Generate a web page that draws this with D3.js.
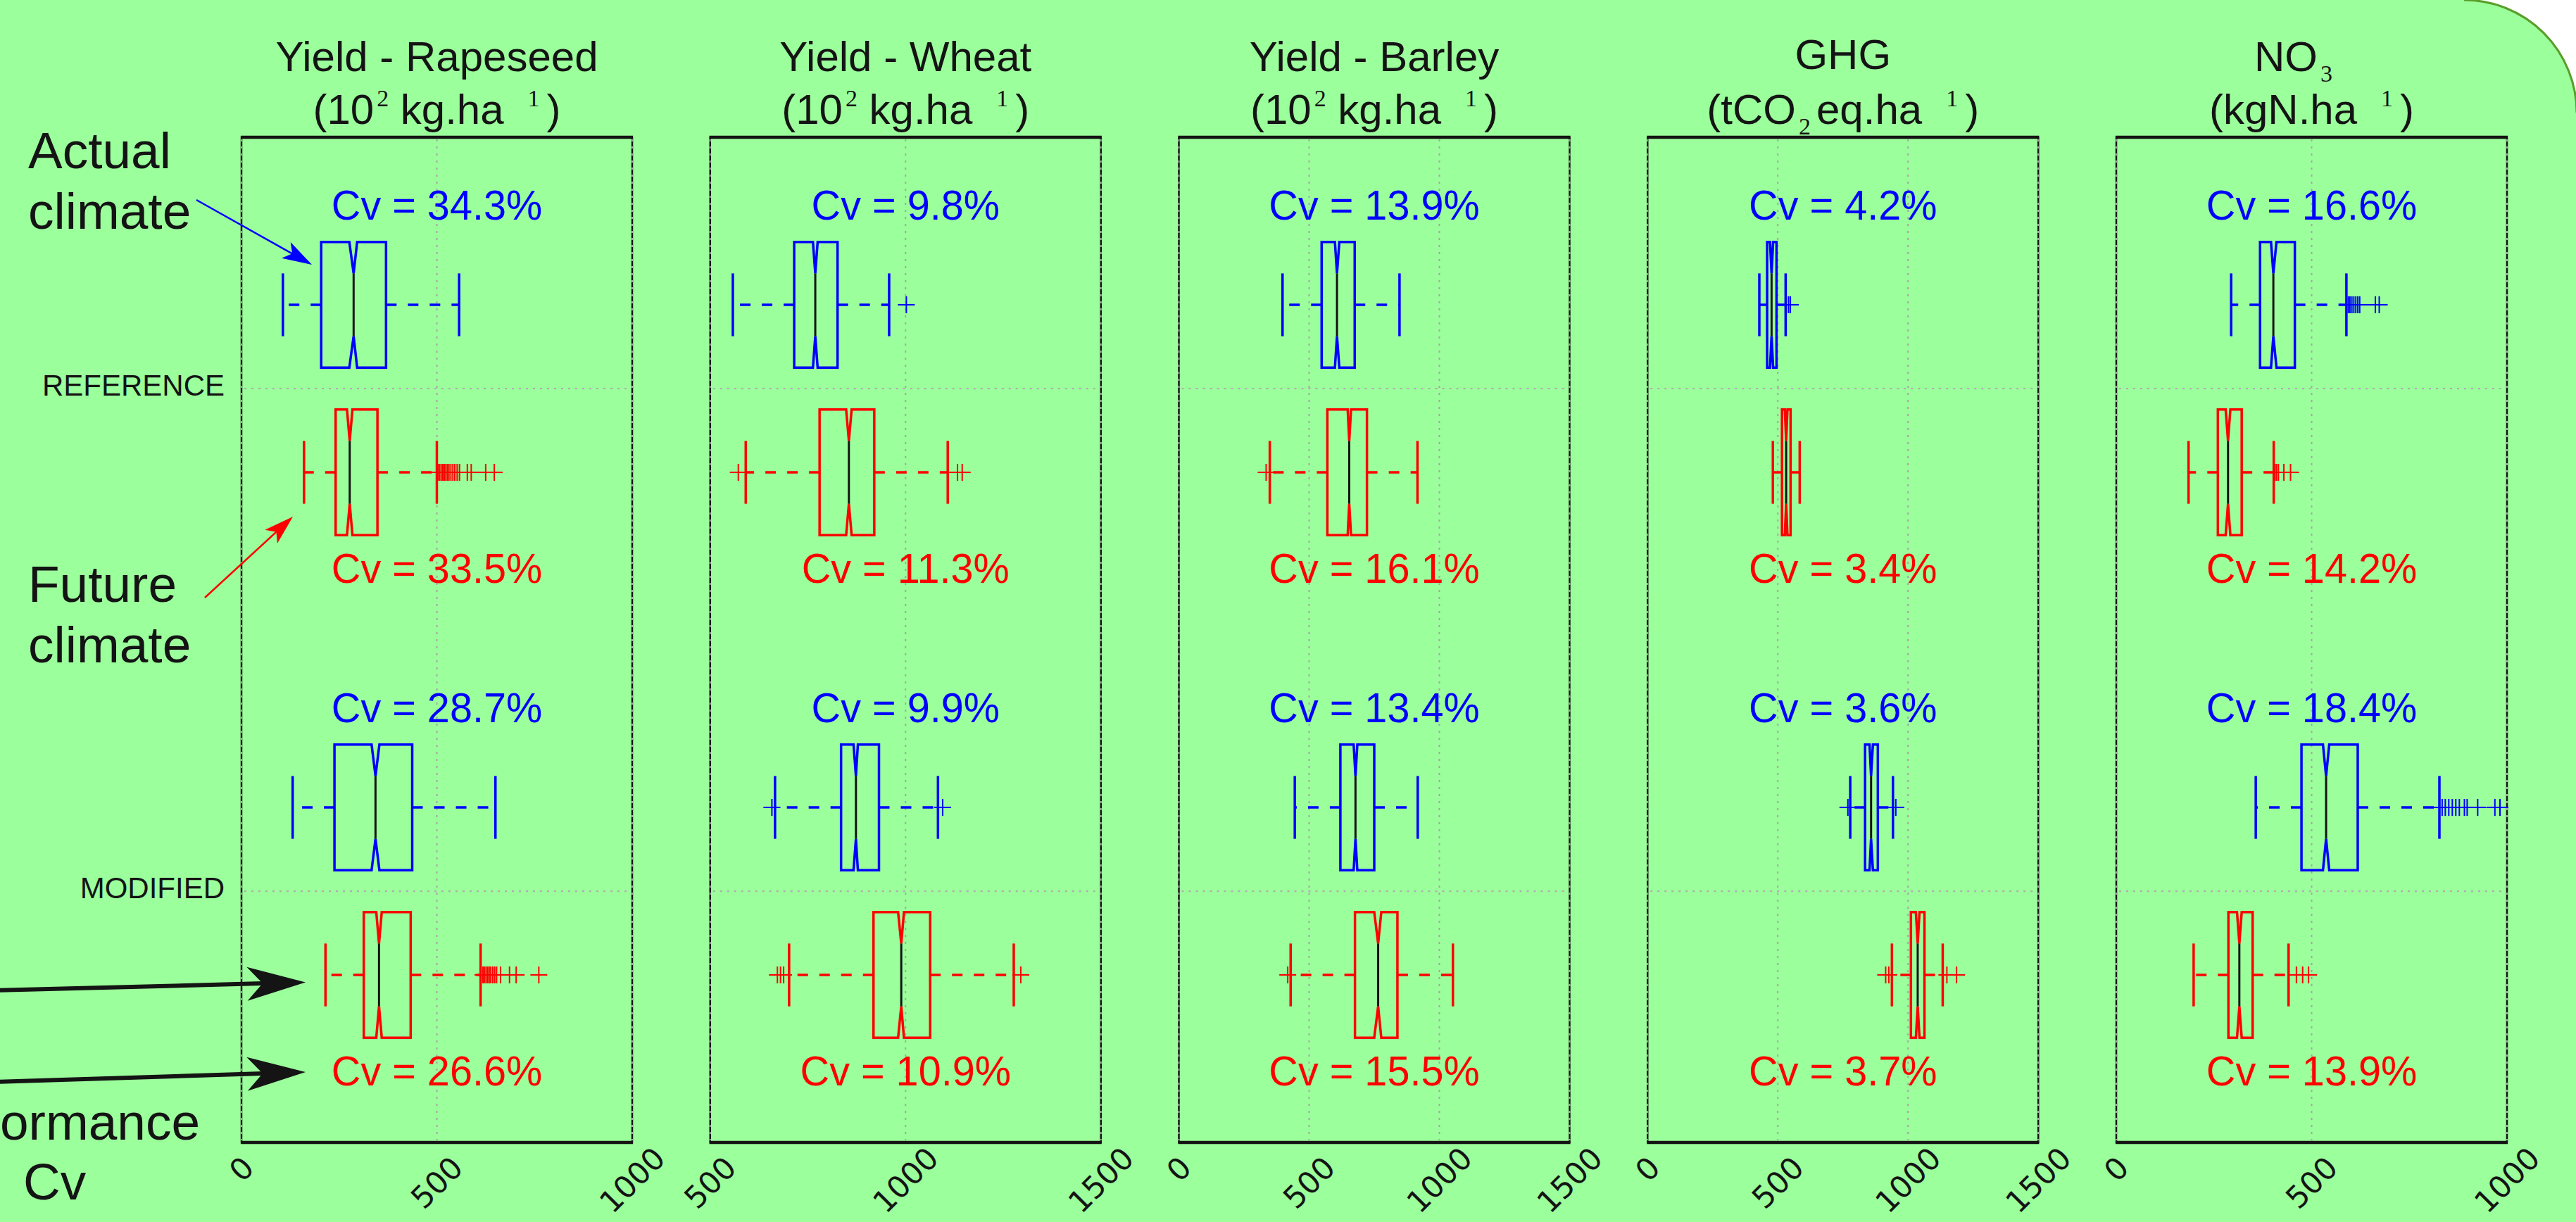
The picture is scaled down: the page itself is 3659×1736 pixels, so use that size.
<!DOCTYPE html>
<html>
<head>
<meta charset="utf-8">
<script src="https://cdn.jsdelivr.net/npm/d3@7"></script>
<style>
  body { margin: 0; background: #fff; }
  svg { display: block; }
</style>
</head>
<body>
<script>
"use strict";

// ---- data ----
var panelTitles = ["Yield - Rapeseed", "Yield - Wheat", "Yield - Barley", "GHG", "NO"];
var domains = [[0, 1000], [500, 1500], [0, 1500], [0, 1500], [0, 1000]];
var tickValues = [[0, 500, 1000], [500, 1000, 1500], [0, 500, 1000, 1500], [0, 500, 1000, 1500], [0, 500, 1000]];
var rowLabels = ["REFERENCE", "MODIFIED"];

// box stats per panel: [low whisker, q1, notch low, median, notch high, q3, high whisker]
var actualRefStats = [
  [106, 204, 276, 287, 296, 370, 557],
  [558, 715, 763, 769, 775, 826, 958],
  [398, 548, 599, 607, 616, 675, 847],
  [429, 459, 470, 476, 482, 495, 530],
  [294, 368, 396, 402, 410, 457, 589]
];
var futureRefStats = [
  [160, 241, 270, 277, 284, 348, 500],
  [591, 780, 848, 855, 862, 920, 1108],
  [349, 570, 648, 654, 661, 722, 916],
  [481, 516, 527, 532, 537, 549, 584],
  [185, 260, 280, 286, 292, 321, 403]
];
var actualModStats = [
  [131, 238, 333, 343, 353, 437, 650],
  [666, 835, 867, 873, 878, 932, 1083],
  [445, 620, 671, 678, 685, 750, 917],
  [778, 835, 852, 858, 865, 884, 942],
  [357, 474, 529, 537, 545, 618, 827]
];
var futureModStats = [
  [215, 313, 345, 352, 359, 433, 612],
  [702, 918, 981, 989, 996, 1063, 1277],
  [429, 676, 750, 765, 777, 839, 1052],
  [938, 1011, 1030, 1037, 1044, 1063, 1133],
  [198, 287, 309, 315, 321, 349, 441]
];

// outliers per panel
var actualRefOut = [[], [1002], [], [541, 548], [594, 598, 603, 608, 613, 618, 623, 663, 673]];
var futureRefOut = [
  [503, 507, 511, 515, 519, 523, 527, 531, 536, 541, 546, 552, 558, 578, 588, 625, 647],
  [572, 1133, 1145], [335], [], [406, 410, 415, 429, 446]
];
var actualModOut = [[], [658, 1095], [], [769, 953], [834, 842, 851, 860, 869, 878, 891, 898, 925, 969, 982]];
var futureModOut = [
  [618, 622, 626, 630, 634, 638, 643, 648, 653, 663, 686, 703, 761],
  [672, 680, 688, 1295], [418], [914, 926, 1149, 1186], [461, 477, 492]
];

// coefficient of variation (%)
var cvActualRef = [34.3, 9.8, 13.9, 4.2, 16.6];
var cvFutureRef = [33.5, 11.3, 16.1, 3.4, 14.2];
var cvActualMod = [28.7, 9.9, 13.4, 3.6, 18.4];
var cvFutureMod = [26.6, 10.9, 15.5, 3.7, 13.9];

// ---- layout ----
var W = 3659, H = 1736;
var panelLeft0 = 343, panelStep = 665.75, panelW = 555;
var plotTop = 195, plotBottom = 1623;
var BLUE = "#0000ff", RED = "#ff0000", INK = "#141414", GREEN = "#9bff9b";
var SANS = "'Liberation Sans', Arial, sans-serif";
var SERIF = "'Liberation Serif', 'Times New Roman', serif";
var TICK_SIZE = 43;

var series = [
  { row: 1, off: -1 / 6, color: BLUE, stats: actualRefStats, out: actualRefOut, cv: cvActualRef },
  { row: 1, off: 1 / 6, color: RED, stats: futureRefStats, out: futureRefOut, cv: cvFutureRef },
  { row: 2, off: -1 / 6, color: BLUE, stats: actualModStats, out: actualModOut, cv: cvActualMod },
  { row: 2, off: 1 / 6, color: RED, stats: futureModStats, out: futureModOut, cv: cvFutureMod }
];

var svg = d3.select("body").append("svg")
  .attr("width", W).attr("height", H)
  .attr("viewBox", "0 0 " + W + " " + H);

// background with the rounded top-right corner
svg.append("rect").attr("width", W).attr("height", H).attr("fill", "#fff");
svg.append("path")
  .attr("d", "M-10,-10 H3500 V0 A160,160 0 0 1 3660,160 V" + (H + 10) + " H-10 Z")
  .attr("fill", GREEN);
svg.append("path")
  .attr("d", "M3500,0 A160,160 0 0 1 3660,160")
  .attr("fill", "none").attr("stroke", "#5a9e2a").attr("stroke-width", 3);

var y = d3.scaleLinear().domain([0.5, 2.5]).range([plotTop, plotBottom]);
var boxHalf = y(0.125) - y(0);
var capHalf = y(0.0625) - y(0);

var line = d3.line();

function drawBox(g, x, yc, s, color, outl) {
  // whiskers, drawn outward from the box
  [[s[1], s[0]], [s[5], s[6]]].forEach(function(p) {
    g.append("line")
      .attr("x1", x(p[0])).attr("x2", x(p[1]))
      .attr("y1", yc).attr("y2", yc)
      .attr("stroke", color).attr("stroke-width", 3.5)
      .attr("stroke-dasharray", "15,16");
  });
  // caps
  [s[0], s[6]].forEach(function(v) {
    g.append("line")
      .attr("x1", x(v)).attr("x2", x(v))
      .attr("y1", yc - capHalf).attr("y2", yc + capHalf)
      .attr("stroke", color).attr("stroke-width", 3.5);
  });
  // notched box
  var pts = [
    [x(s[1]), yc - boxHalf], [x(s[2]), yc - boxHalf], [x(s[3]), yc - boxHalf / 2],
    [x(s[4]), yc - boxHalf], [x(s[5]), yc - boxHalf], [x(s[5]), yc + boxHalf],
    [x(s[4]), yc + boxHalf], [x(s[3]), yc + boxHalf / 2], [x(s[2]), yc + boxHalf],
    [x(s[1]), yc + boxHalf]
  ];
  g.append("path")
    .attr("d", line(pts) + "Z")
    .attr("fill", "none").attr("stroke", color).attr("stroke-width", 3.5)
    .attr("stroke-linejoin", "miter");
  // median
  g.append("line")
    .attr("x1", x(s[3])).attr("x2", x(s[3]))
    .attr("y1", yc - boxHalf / 2).attr("y2", yc + boxHalf / 2)
    .attr("stroke", INK).attr("stroke-width", 3);
  // outliers
  g.selectAll(null).data(outl).enter().append("path")
    .attr("d", "M-12,0H12M0,-12V12")
    .attr("transform", function(d) { return "translate(" + x(d) + "," + yc + ")"; })
    .attr("fill", "none").attr("stroke", color).attr("stroke-width", 2);
}

// unit lines of the titles (pieces: text, kind)
var unitLines = [
  [["(10", ""], ["2", "sup"], [" kg.ha", ""], ["1", "supgap"], [")", "after"]],
  [["(10", ""], ["2", "sup"], [" kg.ha", ""], ["1", "supgap"], [")", "after"]],
  [["(10", ""], ["2", "sup"], [" kg.ha", ""], ["1", "supgap"], [")", "after"]],
  [["(tCO", ""], ["2", "sub"], ["eq.ha", "aftersub"], ["1", "supgap"], [")", "after"]],
  [["(kgN.ha", ""], ["1", "supgap"], [")", "after"]]
];

function addPieces(textSel, pieces) {
  var shift = 0;
  pieces.forEach(function(p) {
    var t = textSel.append("tspan").text(p[0]);
    var target = 0, dx = 0, serif = false;
    if (p[1] === "sup") { target = -25; dx = 4; serif = true; }
    if (p[1] === "supgap") { target = -25; dx = 34; serif = true; }
    if (p[1] === "sub") { target = 15; dx = 4; serif = true; }
    if (p[1] === "after") { dx = 10; }
    if (p[1] === "aftersub") { dx = 8; }
    if (serif) t.style("font-family", SERIF).style("font-size", "34px");
    t.attr("dy", target - shift).attr("dx", dx);
    shift = target;
  });
}

panelTitles.forEach(function(title, i) {
  var left = panelLeft0 + i * panelStep;
  var x = d3.scaleLinear().domain(domains[i]).range([left, left + panelW]);
  var g = svg.append("g");
  var cx = left + panelW / 2;

  // frame
  g.append("rect")
    .attr("x", left).attr("y", plotTop).attr("width", panelW).attr("height", plotBottom - plotTop)
    .attr("fill", "none").attr("stroke", INK).attr("stroke-width", 2.5);
  [plotTop, plotBottom].forEach(function(yy) {
    g.append("line").attr("x1", left - 1).attr("x2", left + panelW + 1)
      .attr("y1", yy).attr("y2", yy).attr("stroke", INK).attr("stroke-width", 4.5);
  });

  // grid
  g.selectAll(null).data(tickValues[i]).enter().append("line")
    .attr("x1", function(d) { return x(d); }).attr("x2", function(d) { return x(d); })
    .attr("y1", plotTop + 3).attr("y2", plotBottom - 3)
    .attr("stroke", "#a9a3a9").attr("stroke-width", 2).attr("stroke-dasharray", "3,7");
  g.selectAll(null).data([1, 2]).enter().append("line")
    .attr("x1", left + 4).attr("x2", left + panelW - 4)
    .attr("y1", function(d) { return y(d); }).attr("y2", function(d) { return y(d); })
    .attr("stroke", "#b3a9b3").attr("stroke-width", 2).attr("stroke-dasharray", "3,7");

  // boxes and Cv labels
  series.forEach(function(s) {
    var yc = y(s.row + s.off);
    drawBox(g, x, yc, s.stats[i], s.color, s.out[i]);
    var ty = s.color === BLUE ? yc - 121 : yc + 157;
    g.append("text")
      .attr("transform", "translate(" + cx + "," + ty + ") scale(0.96,1)")
      .attr("text-anchor", "middle")
      .style("font-family", SANS).style("font-size", "60px")
      .attr("fill", s.color)
      .text("Cv = " + s.cv[i].toFixed(1) + "%");
  });

  // rotated tick labels, kept inside the picture
  tickValues[i].forEach(function(v) {
    var t = g.append("text")
      .attr("text-anchor", "middle").attr("dominant-baseline", "central")
      .style("font-family", "'DejaVu Sans', sans-serif").style("font-size", TICK_SIZE + "px")
      .attr("fill", INK).text(v);
    var w = t.node().getComputedTextLength();
    var want = 1640 + (w + 0.73 * TICK_SIZE) * 0.3536;
    var maxC = H - 3 - (w + 1.17 * TICK_SIZE) * 0.3536;
    t.attr("transform", "translate(" + x(v) + "," + Math.min(want, maxC) + ") rotate(-45)");
  });

  // titles
  var tx = i === 4 ? cx - 26 : cx;
  var t1 = g.append("text")
    .attr("x", tx).attr("y", i === 3 ? 98 : 101).attr("text-anchor", "middle")
    .style("font-family", SANS).style("font-size", "60px").attr("fill", INK)
    .text(title);
  if (i === 4) addPieces(t1, [["3", "sub"]]);
  var t2 = g.append("text")
    .attr("x", cx).attr("y", 176).attr("text-anchor", "middle")
    .style("font-family", SANS).style("font-size", "60px").attr("fill", INK);
  addPieces(t2, unitLines[i]);
});

// row labels
rowLabels.forEach(function(lab, k) {
  svg.append("text")
    .attr("x", 319).attr("y", y(k + 1) + 10).attr("text-anchor", "end")
    .style("font-family", SANS).style("font-size", "42px").attr("fill", INK)
    .text(lab);
});

// annotations on the left
var notes = [
  ["Actual", 40, 239, "start"], ["climate", 40, 325, "start"],
  ["Future", 40, 855, "start"], ["climate", 40, 941, "start"],
  ["ormance", 284, 1619, "end"], ["Cv", 33, 1704, "start"]
];
notes.forEach(function(n) {
  svg.append("text")
    .attr("x", n[1]).attr("y", n[2]).attr("text-anchor", n[3])
    .style("font-family", SANS).style("font-size", "73px").attr("fill", INK)
    .text(n[0]);
});

function arrow(x1, y1, x2, y2, color, width, headLen, headHalf, notch) {
  var dx = x2 - x1, dy = y2 - y1, len = Math.sqrt(dx * dx + dy * dy);
  var ux = dx / len, uy = dy / len, px = -uy, py = ux;
  var bx = x2 - ux * headLen, by = y2 - uy * headLen;
  var ix = x2 - ux * (headLen - notch), iy = y2 - uy * (headLen - notch);
  svg.append("path")
    .attr("d", line([[x1, y1], [ix, iy]]))
    .attr("stroke", color).attr("stroke-width", width).attr("fill", "none");
  svg.append("path")
    .attr("d", line([[x2, y2], [bx + px * headHalf, by + py * headHalf], [ix, iy],
      [bx - px * headHalf, by - py * headHalf]]) + "Z")
    .attr("fill", color).attr("stroke", "none");
}

arrow(279, 284, 443, 376, BLUE, 2.5, 42, 13, 10);
arrow(291, 849, 416, 734, RED, 2.5, 42, 13, 10);
arrow(-5, 1407, 434, 1395.5, INK, 6, 83, 24, 22);
arrow(-5, 1537, 434, 1523, INK, 6, 83, 24, 22);
</script>
</body>
</html>
